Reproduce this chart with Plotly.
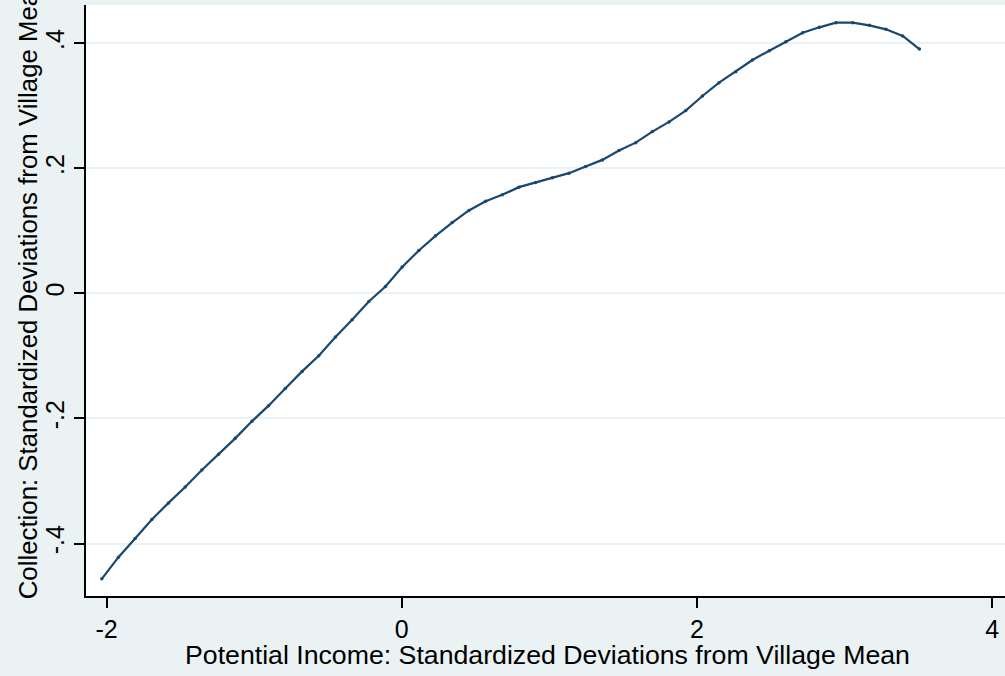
import plotly.graph_objects as go

# Data (lpoly-style smooth, 50 grid points)
x_vals = [-2.032, -1.919, -1.806, -1.693, -1.580, -1.467, -1.354, -1.241, -1.128, -1.015,
          -0.902, -0.789, -0.675, -0.562, -0.449, -0.336, -0.223, -0.110, 0.003, 0.116,
          0.229, 0.342, 0.455, 0.568, 0.681, 0.794, 0.907, 1.020, 1.133, 1.246,
          1.359, 1.472, 1.585, 1.698, 1.811, 1.924, 2.037, 2.150, 2.263, 2.376,
          2.490, 2.603, 2.716, 2.829, 2.942, 3.055, 3.168, 3.281, 3.394, 3.507]
y_vals = [-0.4564, -0.4218, -0.3920, -0.3617, -0.3350, -0.3095, -0.2823, -0.2573, -0.2318, -0.2046,
          -0.1795, -0.1519, -0.1247, -0.0996, -0.0697, -0.0421, -0.0129, 0.0111, 0.0421, 0.0686,
          0.0921, 0.1133, 0.1326, 0.1475, 0.1576, 0.1699, 0.1773, 0.1848, 0.1923, 0.2029,
          0.2135, 0.2284, 0.2411, 0.2588, 0.2742, 0.2923, 0.3157, 0.3370, 0.3546, 0.3733,
          0.3881, 0.4026, 0.4169, 0.4255, 0.4329, 0.4329, 0.4287, 0.4223, 0.4117, 0.3908]

x_ticks = [-2, 0, 2, 4]
x_tick_labels = ["-2", "0", "2", "4"]
y_ticks = [-0.4, -0.2, 0, 0.2, 0.4]
y_tick_labels = ["-.4", "-.2", "0", ".2", ".4"]

x_title = "Potential Income: Standardized Deviations from Village Mean"
y_title = "Collection: Standardized Deviations from Village Mean"

FONT = "Liberation Sans, Arial, sans-serif"
BG = "#eaf2f3"
LINE = "#1a476f"

fig = go.Figure()
fig.add_trace(go.Scatter(
    x=x_vals, y=y_vals, mode="lines+markers",
    line=dict(color=LINE, width=2.2),
    marker=dict(color=LINE, size=3.5, symbol="circle"),
    showlegend=False, hoverinfo="x+y",
))

fig.update_layout(
    width=1005, height=676,
    margin=dict(l=86, r=0, t=5, b=80),
    paper_bgcolor=BG, plot_bgcolor="white",
    font=dict(family=FONT, color="black"),
    xaxis=dict(
        range=[-2.139, 4.087], tickvals=x_ticks, ticktext=x_tick_labels,
        showline=True, linecolor="black", linewidth=2,
        ticks="outside", ticklen=10, tickwidth=2, tickcolor="black",
        showgrid=False, zeroline=False,
        tickfont=dict(size=25, family=FONT, color="black"),
    ),
    yaxis=dict(
        range=[-0.4839, 0.4612], tickvals=y_ticks, ticktext=y_tick_labels,
        showline=True, linecolor="black", linewidth=2,
        ticks="outside", ticklen=10, tickwidth=2, tickcolor="black",
        showgrid=True, gridcolor=BG, gridwidth=2, zeroline=False,
        tickangle=-90,
        tickfont=dict(size=25, family=FONT, color="black"),
    ),
    annotations=[
        dict(text=x_title, xref="paper", yref="paper", x=0.502, y=-0.1005,
             xanchor="center", yanchor="middle", showarrow=False,
             font=dict(size=26.7, family=FONT, color="black")),
        dict(text=y_title, xref="paper", yref="paper", x=-0.0631, y=0.5207,
             xanchor="center", yanchor="middle", textangle=-90, showarrow=False,
             font=dict(size=25.8, family=FONT, color="black")),
    ],
)

fig.write_html("out.html")
